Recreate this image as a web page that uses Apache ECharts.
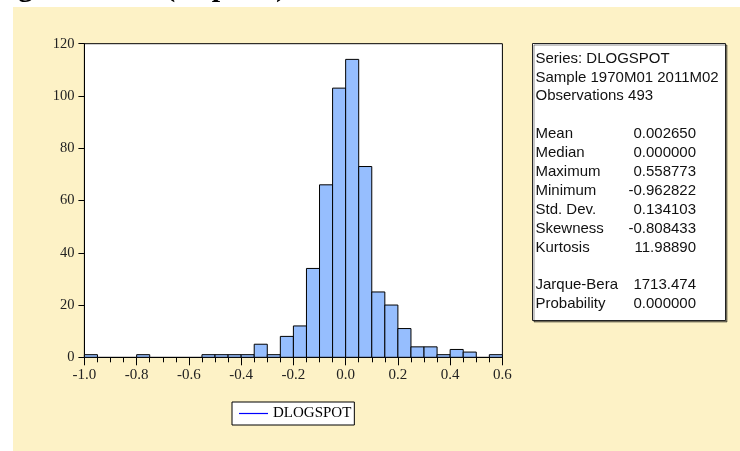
<!DOCTYPE html>
<html>
<head>
<meta charset="utf-8">
<script src="https://cdn.jsdelivr.net/npm/echarts@6/dist/echarts.min.js"></script>
<style>
html,body{margin:0;padding:0;background:#fff;}
#chart{width:740px;height:451px;}
</style>
</head>
<body>
<div id="chart"></div>
<script>
// ---- data ----
var seriesName = 'DLOGSPOT';
var binStarts = [-1.00,-0.95,-0.90,-0.85,-0.80,-0.75,-0.70,-0.65,-0.60,-0.55,-0.50,-0.45,-0.40,-0.35,-0.30,-0.25,
                 -0.20,-0.15,-0.10,-0.05,0.00,0.05,0.10,0.15,0.20,0.25,0.30,0.35,0.40,0.45,0.50,0.55];
var binWidth = 0.05;
var counts = [1,0,0,0,1,0,0,0,0,1,1,1,1,5,1,8,
              12,34,66,103,114,73,25,20,11,4,4,1,3,2,0,1];
var headerLines = ['Series: DLOGSPOT', 'Sample 1970M01 2011M02', 'Observations 493'];
var statLabels = ['Mean','Median','Maximum','Minimum','Std. Dev.','Skewness','Kurtosis'];
var statValues = ['0.002650','0.000000','0.558773','-0.962822','0.134103','-0.808433','11.98890'];
var testLabels = ['Jarque-Bera','Probability'];
var testValues = ['1713.474','0.000000'];
var titleText = 'Histogram View (Capes 3)';

// ---- build ----
var chart = echarts.init(document.getElementById('chart'), null, {renderer:'canvas'});
var data = binStarts.map(function(s,i){ return [s, s + binWidth, counts[i]]; });

var serif = '"Liberation Serif","Times New Roman",serif';
var sans = '"Liberation Sans",Arial,sans-serif';
var statFont = '15px ' + sans;

var graphics = [];
graphics.push({type:'text', z:-2, style:{text:titleText, x:286, y:3, textAlign:'right', textVerticalAlign:'bottom', font:'bold 30px ' + serif, fill:'#000'}});
graphics.push({type:'rect', z:-1, shape:{x:13, y:7, width:727, height:444}, style:{fill:'#FDF2C6'}});
// stats box
graphics.push({type:'rect', z:1, shape:{x:532.5, y:43.5, width:193, height:277}, style:{fill:'#fff', stroke:'#222', lineWidth:1, shadowColor:'rgba(0,0,0,0.45)', shadowOffsetX:1.5, shadowOffsetY:1.5, shadowBlur:0}});
var rowY0 = 58.5, rowH = 18.9;
var row = 0;
headerLines.forEach(function(t){
  graphics.push({type:'text', z:2, style:{text:t, x:535.5, y:rowY0+row*rowH, textVerticalAlign:'middle', font:statFont, fill:'#111'}});
  row++;
});
row++;
statLabels.forEach(function(t,i){
  graphics.push({type:'text', z:2, style:{text:t, x:535.5, y:rowY0+row*rowH, textVerticalAlign:'middle', font:statFont, fill:'#111'}});
  graphics.push({type:'text', z:2, style:{text:statValues[i], x:696, y:rowY0+row*rowH, textAlign:'right', textVerticalAlign:'middle', font:statFont, fill:'#111'}});
  row++;
});
row++;
testLabels.forEach(function(t,i){
  graphics.push({type:'text', z:2, style:{text:t, x:535.5, y:rowY0+row*rowH, textVerticalAlign:'middle', font:statFont, fill:'#111'}});
  graphics.push({type:'text', z:2, style:{text:testValues[i], x:696, y:rowY0+row*rowH, textAlign:'right', textVerticalAlign:'middle', font:statFont, fill:'#111'}});
  row++;
});

var option = {
  backgroundColor: 'transparent',
  animation: false,
  graphic: graphics,
  legend: {
    show: true,
    left: 232, top: 402,
    selectedMode: false,
    backgroundColor: '#fff',
    borderColor: '#000',
    borderWidth: 1,
    padding: [4, 3, 4, 7],
    itemWidth: 29,
    itemHeight: 1.2,
    itemGap: 5,
    textStyle: {fontFamily: serif, fontSize: 15, color: '#000', lineHeight: 15, padding:[0,0,0,0]},
    data: [{name: seriesName, icon: 'rect', itemStyle: {color: '#0000FF', borderWidth: 0}}]
  },
  grid: {
    left: 84.4, top: 43.7, right: 237.6, bottom: 93.7,
    show: true, backgroundColor: '#fff', borderColor: '#000', borderWidth: 1
  },
  xAxis: {
    type: 'value', min: -1.0, max: 0.6, interval: 0.2,
    axisLine: {show: true, onZero: false, lineStyle: {color: '#000', width: 1}},
    axisTick: {show: true, length: 8, lineStyle: {color: '#000'}},
    minorTick: {show: true, splitNumber: 4, length: 5, lineStyle: {color: '#000'}},
    splitLine: {show: false},
    axisLabel: {margin: 10, fontFamily: serif, fontSize: 15, color: '#222',
      formatter: function(v){ return v.toFixed(1); }}
  },
  yAxis: {
    type: 'value', min: 0, max: 120, interval: 20,
    axisLine: {show: true, onZero: false, lineStyle: {color: '#000', width: 1}},
    axisTick: {show: true, length: 6, lineStyle: {color: '#000'}},
    splitLine: {show: false},
    axisLabel: {margin: 10, fontFamily: serif, fontSize: 14.5, color: '#222'}
  },
  series: [{
    name: seriesName,
    type: 'custom',
    z: 3,
    encode: {x: [0, 1], y: 2},
    itemStyle: {color: '#96BEFE'},
    renderItem: function(params, api){
      var c = api.value(2);
      if (!c) return null;
      var p0 = api.coord([api.value(0), c]);
      var p1 = api.coord([api.value(1), 0]);
      return {
        type: 'rect',
        shape: {x: p0[0], y: p0[1], width: p1[0]-p0[0], height: p1[1]-p0[1]},
        style: {fill: '#96BEFE', stroke: '#000', lineWidth: 1}
      };
    },
    data: data
  }]
};
chart.setOption(option);
</script>
</body>
</html>
